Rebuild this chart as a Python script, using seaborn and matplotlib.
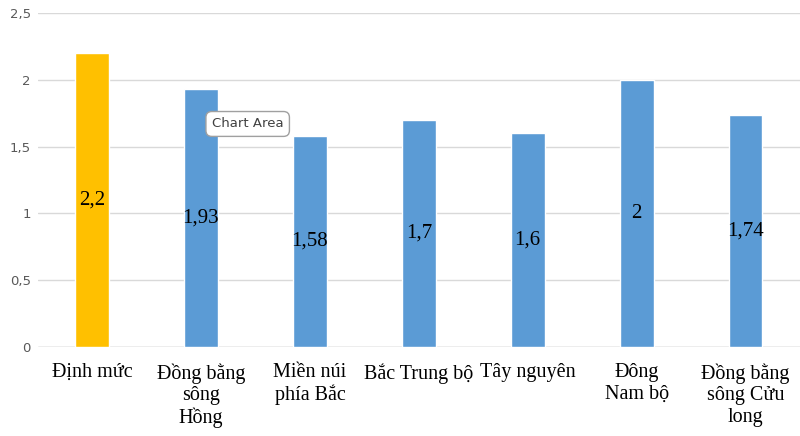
import matplotlib
matplotlib.use("Agg")
import matplotlib.pyplot as plt
import seaborn as sns
import pandas as pd

categories = ["Định mức", "Đồng bằng\nsông\nHồng", "Miền núi\nphía Bắc", "Bắc Trung bộ",
              "Tây nguyên", "Đông\nNam bộ", "Đồng bằng\nsông Cửu\nlong"]
values = [2.2, 1.93, 1.58, 1.7, 1.6, 2, 1.74]
value_labels = ["2,2", "1,93", "1,58", "1,7", "1,6", "2", "1,74"]
y_ticks = [0, 0.5, 1, 1.5, 2, 2.5]
y_tick_labels = ["0", "0,5", "1", "1,5", "2", "2,5"]
colors = ["#FFC000", "#5B9BD5", "#5B9BD5", "#5B9BD5", "#5B9BD5", "#5B9BD5", "#5B9BD5"]

df = pd.DataFrame({"cat": categories, "val": values})

sns.set_style("white")
fig = plt.figure(figsize=(8, 4.36), dpi=100)
ax = fig.add_axes([0.047, 0.204, 0.953, 0.766])
sns.barplot(data=df, x="cat", y="val", hue="cat", palette=colors, legend=False,
            width=0.31, saturation=1, ax=ax)
ax.set_ylim(0, 2.5)
ax.set_xlim(-0.5, 6.5)
ax.set_yticks(y_ticks)
ax.set_yticklabels(y_tick_labels, fontsize=9.5, color="#595959", family="DejaVu Sans")
ax.tick_params(axis="y", length=0, pad=5)
ax.tick_params(axis="x", length=0, pad=11.5)
ax.set_xticks(range(len(categories)))
ax.set_xticklabels(categories, fontsize=14.5, family="Liberation Serif", color="black",
                   linespacing=1.18, va="top")
ax.set_xlabel("")
ax.set_ylabel("")
for s in ax.spines.values():
    s.set_visible(False)
ax.yaxis.grid(True, color="#D9D9D9", linewidth=1)
ax.set_axisbelow(True)
ax.axhline(0, color="#BFBFBF", linewidth=1, zorder=0.5)
for i, (v, lab) in enumerate(zip(values, value_labels)):
    ax.text(i, v / 2, lab, ha="center", va="center", fontsize=15,
            family="Liberation Serif", color="black")

ax.text(1.1, 1.67, "Chart Area", fontsize=9.5, color="#404040", family="DejaVu Sans",
        ha="left", va="center",
        bbox=dict(boxstyle="round,pad=0.45", fc="white", ec="#A0A0A0", lw=1))

fig.savefig("out.png", dpi=100)
